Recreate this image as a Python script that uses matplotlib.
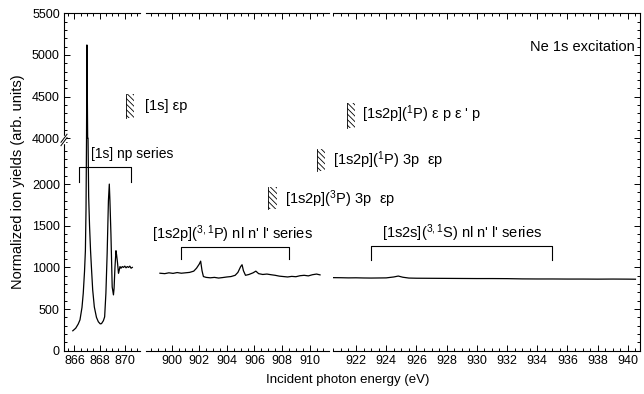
import numpy as np
import matplotlib
matplotlib.use("Agg")
import matplotlib.pyplot as plt
from matplotlib.patches import Rectangle

plt.rcParams['font.family'] = ['Liberation Sans', 'DejaVu Sans']
plt.rcParams['mathtext.fontset'] = 'custom'
plt.rcParams['mathtext.rm'] = 'Liberation Sans'
plt.rcParams['mathtext.it'] = 'Liberation Sans:italic'
plt.rcParams['mathtext.bf'] = 'Liberation Sans:bold'
plt.rcParams['hatch.linewidth'] = 0.6

# --- data ---
x1 = [865.87, 866.1, 866.3, 866.44, 866.6, 866.7, 866.8, 866.87, 866.92, 866.96,
      866.99, 867.02, 867.05, 867.08, 867.13, 867.2, 867.28, 867.35, 867.45, 867.58,
      867.75, 867.9, 868.05, 868.15, 868.3, 868.4, 868.5, 868.6, 868.7, 868.77,
      868.82, 868.9, 869.0, 869.1, 869.15, 869.22, 869.3, 869.35, 869.42, 869.5,
      869.55, 869.62, 869.7, 869.8, 869.9, 870.0, 870.1, 870.2, 870.3, 870.4,
      870.5, 870.6]
y1 = [239, 270, 320, 370, 520, 690, 950, 1200, 1700, 3000,
      5120, 4600, 3800, 2600, 1850, 1500, 1200, 1000, 730, 525,
      400, 347, 322, 325, 360, 406, 690, 1170, 1800, 2000,
      1800, 1400, 765, 670, 750, 1000, 1200, 1150, 1060, 930,
      960, 1010, 990, 1010, 1000, 1015, 995, 1010, 1000, 1015,
      990, 1000]

x2 = [899.15, 899.5, 899.8, 900.1, 900.4, 900.7, 901.0, 901.3, 901.6, 901.8,
      902.0, 902.1, 902.2, 902.3, 902.5, 902.8, 903.1, 903.4, 903.7, 904.0,
      904.3, 904.6, 904.8, 905.0, 905.1, 905.2, 905.35, 905.6, 905.9, 906.1,
      906.3, 906.6, 906.9, 907.2, 907.5, 907.8, 908.1, 908.4, 908.7, 909.0,
      909.3, 909.6, 909.9, 910.2, 910.5, 910.75]
y2 = [930, 925, 935, 928, 938, 930, 935, 940, 955, 990,
      1040, 1075, 960, 890, 880, 875, 880, 872, 878, 885,
      890, 905, 940, 1010, 1032, 960, 905, 915, 935, 955,
      925, 915, 920, 912, 905, 895, 890, 885, 892, 888,
      900, 905, 898, 912, 920, 910]

x3 = [920.46, 921.0, 921.5, 922.0, 922.5, 923.0, 923.5, 924.0, 924.5, 924.8,
      925.1, 925.5, 926.0, 927.0, 928.0, 929.0, 930.0, 931.0, 932.0, 933.0,
      934.0, 935.0, 936.0, 937.0, 938.0, 939.0, 940.0, 940.5]
y3 = [877, 876, 874, 875, 873, 872, 873, 874, 885, 896,
      882, 872, 870, 869, 868, 867, 866, 866, 865, 862,
      861, 861, 860, 860, 859, 860, 859, 858]

xlims = [(865.17, 871.21), (898.14, 911.4), (920.48, 940.8)]
xticks = [[866, 868, 870], [900, 902, 904, 906, 908, 910],
          list(range(922, 941, 2))]
yticks = [0, 500, 1000, 1500, 2000, 4000, 4500, 5000, 5500]

# broken y axis: 0..2550 then 4000..5500
YB, YT = 2550.0, 4000.0


def fwd(y):
    y = np.asarray(y, float)
    return np.where(y <= YB, y, np.where(y < YT, YB, y - (YT - YB)))


def inv(u):
    u = np.asarray(u, float)
    return np.where(u <= YB, u, u + (YT - YB))


W, H = 644, 394
fig = plt.figure(figsize=(W / 100, H / 100), dpi=100)
bot = 1 - 350.7 / H
top = 1 - 13.3 / H
px = [(64, 140), (146, 329), (333, 640)]
axes = []
for i, (a, b) in enumerate(px):
    ax = fig.add_axes([a / W, bot, (b - a) / W, top - bot])
    ax.patch.set_visible(False)
    ax.set_yscale('function', functions=(fwd, inv))
    ax.set_xlim(*xlims[i])
    ax.set_ylim(0, 5500)
    ax.set_yticks(yticks)
    minor = [v for v in range(0, 2600, 100)] + [v for v in range(4000, 5600, 100)]
    ax.set_yticks(minor, minor=True)
    ax.set_xticks(xticks[i])
    ax.set_xticks(np.arange(np.ceil(xlims[i][0] * 2) / 2, xlims[i][1], 0.5), minor=True)
    ax.tick_params(which='both', direction='in', top=True, right=True,
                   labelsize=9, width=0.7, pad=3)
    ax.tick_params(which='major', length=4)
    ax.tick_params(which='minor', length=2)
    for s in ax.spines.values():
        s.set_linewidth(0.8)
    if i > 0:
        ax.spines['left'].set_visible(False)
        ax.tick_params(axis='y', which='both', left=False, labelleft=False)
    if i < 2:
        ax.spines['right'].set_visible(False)
        ax.tick_params(axis='y', which='both', right=False)
    axes.append(ax)

ax1, ax2, ax3 = axes
ax1.plot(x1, y1, color='k', lw=0.9)
ax2.plot(x2, y2, color='k', lw=0.9)
ax3.plot(x3, y3, color='k', lw=0.9)

# y-break marks on the left spine
yb = YB / fwd(5500)
ax1.plot([0, 0], [yb - 0.012, yb + 0.004], transform=ax1.transAxes, color='white',
         lw=2.5, clip_on=False, zorder=5)
for d in (-0.01, 0.0):
    ax1.plot([-0.04, 0.04], [yb + d - 0.012, yb + d + 0.012], transform=ax1.transAxes,
             color='k', lw=0.7, clip_on=False, zorder=6)

tfs = 10.5


def hatch(ax, x0, x1_, y0, y1_):
    ax.add_patch(Rectangle((x0, y0), x1_ - x0, y1_ - y0, fill=False, hatch='\\\\\\\\\\\\',
                           edgecolor='k', lw=0, clip_on=False))
    ax.plot([x0, x0], [y0, y1_], color='k', lw=0.6, clip_on=False)


def bracket(ax, xa, xb, yh, yl):
    ax.plot([xa, xa, xb, xb], [yl, yh, yh, yl], color='k', lw=0.8, clip_on=False)


# [1s] np series
bracket(ax1, 866.36, 870.47, 2200, 2020)
ax1.text(867.3, 2362, '[1s] np series', fontsize=10, va='center', ha='left')

# [1s] eps p
hatch(ax1, 870.1, 870.75, 4243, 4535)
ax1.text(871.6, 4390, '[1s] εp', fontsize=tfs, va='center', ha='left')

hatch(ax3, 921.4, 921.95, 4118, 4420)
ax3.text(922.4, 4287, "[1s2p]($^{1}$P) ε p ε ' p", fontsize=tfs, va='center', ha='left')

hatch(ax2, 910.5, 911.1, 2159, 2422)
ax2.text(911.7, 2290, "[1s2p]($^{1}$P) 3p  εp", fontsize=tfs, va='center', ha='left')

hatch(ax2, 907.0, 907.6, 1705, 1968)
ax2.text(908.2, 1824, "[1s2p]($^{3}$P) 3p  εp", fontsize=tfs, va='center', ha='left')

bracket(ax2, 900.65, 908.5, 1243, 1096)
ax2.text(898.6, 1400, "[1s2p]($^{3,1}$P) nl n' l' series", fontsize=tfs, va='center', ha='left')

bracket(ax3, 923.0, 935.0, 1251, 1092)
ax3.text(923.7, 1405, "[1s2s]($^{3,1}$S) nl n' l' series", fontsize=tfs, va='center', ha='left')

fig.text(530 / W, 1 - 47 / H, 'Ne 1s excitation', fontsize=tfs, ha='left', va='center')

fig.text(18 / W, 1 - 182 / H, 'Normalized ion yields (arb. units)', rotation=90,
         fontsize=10.5, ha='center', va='center')
fig.text(348 / W, 1 - 380 / H, 'Incident photon energy (eV)', fontsize=9.5,
         ha='center', va='center')

fig.savefig('out.png', dpi=100)
